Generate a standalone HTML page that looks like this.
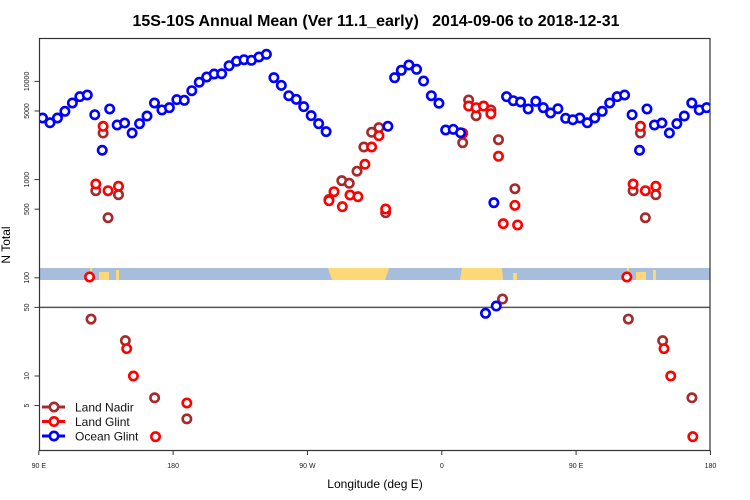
<!DOCTYPE html>
<html><head><meta charset="utf-8"><title>15S-10S Annual Mean</title>
<style>
html,body{margin:0;padding:0;background:#fff;}
svg{display:block;font-family:"Liberation Sans",Arial,sans-serif;}
</style></head>
<body>
<svg id="chart" width="750" height="500" viewBox="0 0 750 500" xmlns="http://www.w3.org/2000/svg">
  <text x="376" y="26" text-anchor="middle" font-size="16" font-weight="bold" textLength="487" lengthAdjust="spacingAndGlyphs">15S-10S Annual Mean (Ver 11.1_early)&#160;&#160; 2014-09-06 to 2018-12-31</text>
  <defs><clipPath id="plotclip"><rect x="39.5" y="38.5" width="670.5" height="412"/></clipPath></defs>
  <g id="mask">
    <rect x="39.5" y="268" width="670.5" height="12" fill="#a6bddb"/>
    <polygon points="328,268 389,268 385,280 332,280" fill="#fdd878"/>
    <polygon points="462,268 502,268 503,280 460,280" fill="#fdd878"/>
    <rect x="513" y="273" width="4" height="7" fill="#fdd878"/>
    <rect x="90" y="268" width="2" height="3" fill="#fdd878"/>
    <rect x="99" y="272" width="10" height="8" fill="#fdd878"/>
    <rect x="116" y="270" width="3" height="10" fill="#fdd878"/>
    <rect x="627" y="268" width="2" height="3" fill="#fdd878"/>
    <rect x="636" y="272" width="10" height="8" fill="#fdd878"/>
    <rect x="653" y="270" width="3" height="10" fill="#fdd878"/>
  </g>
  <g id="axes"></g>
  <g id="marks" clip-path="url(#plotclip)"></g>
  <rect x="39.5" y="38.5" width="670.5" height="412" fill="none" stroke="#333" stroke-width="1.2"/>
  <text transform="translate(10,245) rotate(-90)" text-anchor="middle" font-size="12">N Total</text>
  <text x="375" y="488" text-anchor="middle" font-size="12">Longitude (deg E)</text>
  <g id="legend"></g>
</svg>
<script>
const yTicks = [5,10,50,100,500,1000,5000,10000];
const xTickLons = [90,180,270,360,450,540];
const xTickLabels = ["90 E","180","90 W","0","90 E","180"];

const oceanLon = [92.5,97.5,102.5,107.5,112.5,117.5,122.5,127.5,132.5,137.5,142.5,147.5,152.5,157.5,162.5,167.5,172.5,177.5,182.5,187.5,192.5,197.5,202.5,207.5,212.5,217.5,222.5,227.5,232.5,237.5,242.5,247.5,252.5,257.5,262.5,267.5,272.5,277.5,282.5,
 323.9,328.4,332.9,338.0,343.1,347.8,353.0,358.1,362.6,367.7,372.6,389.3,394.9,396.5,403.4,407.9,412.8,417.9,423.0,428.0,432.9,437.8,443.0,447.8];
const oceanVal = [4240,3790,4240,4960,6030,6990,7270,4580,1990,5240,3600,3770,2980,3710,4440,6030,5120,5400,6520,6420,8040,9800,11090,11900,11970,14450,16030,16630,16400,17730,18880,10910,9120,7150,6570,5530,4480,3710,3080,
 3490,10910,12970,14690,13280,10090,7150,5990,3200,3250,3000,43.5,582,51.6,6990,6360,6170,5240,6270,5400,4770,5270,4210,4070];

const nadirLon = [125.0,128.2,133.1,136.4,143.4,148.0,167.6,189.2,284.4,293.0,298.0,303.2,307.8,313.0,317.9,322.4,374.0,378.0,383.0,392.9,398.0,400.7,409.0];
const nadirVal = [38,771,2980,409,702,22.9,6.0,3.66,627,975,917,1216,2148,3033,3378,460,2377,6468,4475,5117,2549,60.8,808];

const glintLon = [124.0,128.2,133.1,136.4,143.4,148.9,153.4,168.2,189.2,284.4,287.8,293.4,298.5,303.8,308.5,313.0,317.9,322.4,374.0,378.0,383.0,388.0,392.9,398.0,401.2,409.0,410.8];
const glintVal = [102,902,3490,771,855,19.0,10,2.41,5.31,610,753,530,697,670,1432,2148,2800,502,2961,5612,5398,5612,4690,1727,356,547,345];

const NS = "http://www.w3.org/2000/svg";
function xPos(lon){ return 38.8 + (lon - 90) * 1.4925; }
function yPos(v){ return 376 - 98.2 * (Math.log10(v) - 1); }
function mk(tag, attrs, parent){
  const e = document.createElementNS(NS, tag);
  for (const k in attrs) e.setAttribute(k, attrs[k]);
  parent.appendChild(e);
  return e;
}
const axes = document.getElementById('axes');
const marks = document.getElementById('marks');
const legend = document.getElementById('legend');

const ref = mk('line', {x1:39.5, x2:710, y1:yPos(50), y2:yPos(50), stroke:'#555', 'stroke-width':1.5}, axes);



yTicks.forEach(function(v){
  const y = yPos(v);
  const t = mk('line', {x1:34.5, x2:39.5, y1:y, y2:y, stroke:'#333', 'stroke-width':1}, axes);
  
  
  const lb = mk('text', {transform:'translate(29,' + y + ') rotate(-90)', 'text-anchor':'middle', 'font-size':7, fill:'#222'}, axes);
  lb.textContent = String(v);
  
  
});
xTickLons.forEach(function(lon, i){
  const x = xPos(lon);
  const t = mk('line', {x1:x, x2:x, y1:450.5, y2:455, stroke:'#333', 'stroke-width':1}, axes);
  
  
  const lb = mk('text', {x:x, y:468, 'text-anchor':'middle', 'font-size':7, fill:'#222'}, axes);
  lb.textContent = xTickLabels[i];
  
  
});

function drawSeries(lons, vals, color, name){
  const g = mk('g', {}, marks);
  
  
  lons.forEach(function(lon, i){
    [lon, lon + 360].forEach(function(L){
      if (L > 541) return;
      const c = mk('circle', {cx:xPos(L), cy:yPos(vals[i]), r:4.2, fill:'#fff', stroke:color, 'stroke-width':2.6}, g);
      
      
    });
  });
}
drawSeries(nadirLon, nadirVal, '#a52a2a', 'land-nadir');
drawSeries(glintLon, glintVal, '#ff0000', 'land-glint');
drawSeries(oceanLon, oceanVal, '#0000ff', 'ocean-glint');

const legendNames = ['Land Nadir','Land Glint','Ocean Glint'];
const legendColors = ['#a52a2a','#ff0000','#0000ff'];
legendNames.forEach(function(n, i){
  const y = 407 + i * 14.5;
  const ln = mk('line', {x1:42, x2:65, y1:y, y2:y, stroke:legendColors[i], 'stroke-width':3}, legend);
  
  
  const c = mk('circle', {cx:54, cy:y, r:4.2, fill:'#fff', stroke:legendColors[i], 'stroke-width':2.6}, legend);
  
  
  const t = mk('text', {x:75, y:y + 4.5, 'font-size':12, fill:'#111'}, legend);
  t.textContent = n;
  
  
});
</script>
</body></html>
